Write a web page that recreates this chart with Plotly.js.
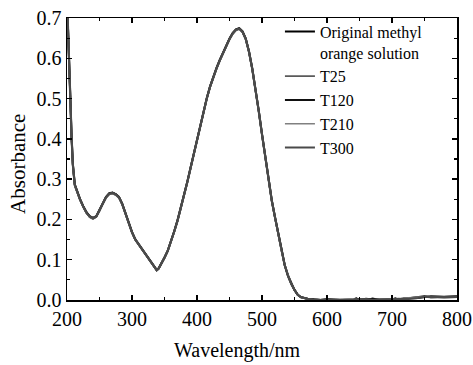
<!DOCTYPE html>
<html>
<head>
<meta charset="utf-8">
<script src="https://cdn.plot.ly/plotly-3.0.1.min.js"></script>
<style>html,body{margin:0;padding:0;background:#fff;}#chart{width:473px;height:365px;}</style>
</head>
<body>
<div id="chart"></div>
<script>
const wavelength = [201,203,205,207,209,212,216,220,225,230,235,240,245,250,255,260,265,270,275,280,285,290,295,300,305,310,315,320,325,330,335,338,341,345,350,355,360,365,370,375,380,385,390,395,400,405,410,415,420,425,430,435,440,445,450,455,460,465,470,475,480,485,490,495,500,505,510,515,520,525,530,535,540,545,550,555,560,570,580,590,600,620,640,645,650,660,670,680,700,705,710,720,740,750,760,780,800];

const original = [0.700,0.620,0.505,0.405,0.335,0.285,0.265,0.250,0.232,0.217,
 0.207,0.203,0.207,0.222,0.240,0.255,0.264,0.266,0.262,0.255,
 0.238,0.214,0.190,0.168,0.150,0.138,0.127,0.115,0.104,0.093,
 0.080,0.074,0.078,0.089,0.105,0.122,0.145,0.170,0.197,0.227,
 0.258,0.292,0.327,0.362,0.397,0.432,0.468,0.500,0.529,0.553,
 0.575,0.595,0.613,0.630,0.648,0.662,0.671,0.674,0.666,0.648,
 0.616,0.574,0.524,0.469,0.411,0.352,0.296,0.247,0.205,0.162,
 0.122,0.086,0.060,0.040,0.025,0.013,0.007,0.003,0.001,0.000,
 0.001,0.000,0.001,0.004,0.000,0.003,0.001,0.000,0.001,0.004,
 0.001,0.003,0.006,0.009,0.007,0.007,0.008];

const t25 = [0.698,0.615,0.500,0.400,0.332,0.283,0.263,0.248,0.230,0.215,
 0.205,0.201,0.206,0.220,0.238,0.253,0.262,0.264,0.260,0.253,
 0.236,0.212,0.188,0.167,0.149,0.137,0.126,0.114,0.103,0.092,
 0.079,0.073,0.077,0.088,0.104,0.121,0.144,0.168,0.195,0.225,
 0.256,0.290,0.325,0.360,0.395,0.430,0.466,0.498,0.527,0.551,
 0.573,0.593,0.611,0.628,0.646,0.660,0.669,0.672,0.664,0.646,
 0.614,0.572,0.522,0.467,0.409,0.350,0.294,0.245,0.203,0.160,
 0.121,0.085,0.059,0.039,0.024,0.012,0.006,0.002,0.001,0.000,
 0.000,0.001,0.002,0.000,0.003,0.000,0.004,0.001,0.000,0.002,
 0.003,0.004,0.007,0.008,0.008,0.006,0.007];

const t120 = [0.702,0.625,0.510,0.408,0.338,0.287,0.266,0.251,0.233,0.218,
 0.208,0.204,0.208,0.223,0.241,0.256,0.265,0.267,0.263,0.256,
 0.239,0.215,0.191,0.169,0.151,0.139,0.128,0.116,0.105,0.094,
 0.081,0.075,0.079,0.090,0.106,0.123,0.146,0.171,0.198,0.228,
 0.259,0.293,0.328,0.363,0.398,0.433,0.469,0.501,0.530,0.554,
 0.576,0.596,0.614,0.631,0.649,0.663,0.672,0.675,0.667,0.649,
 0.617,0.575,0.525,0.470,0.412,0.353,0.297,0.248,0.206,0.163,
 0.123,0.087,0.061,0.041,0.025,0.013,0.007,0.003,0.001,0.000,
 0.002,0.000,0.000,0.003,0.001,0.000,0.003,0.001,0.002,0.000,
 0.002,0.004,0.005,0.007,0.009,0.008,0.009];

const t210 = [0.699,0.618,0.503,0.403,0.334,0.284,0.264,0.249,0.231,0.216,
 0.206,0.202,0.206,0.221,0.239,0.254,0.263,0.265,0.261,0.254,
 0.237,0.213,0.189,0.167,0.150,0.138,0.126,0.115,0.104,0.093,
 0.080,0.074,0.078,0.089,0.105,0.122,0.144,0.169,0.196,0.226,
 0.257,0.291,0.326,0.361,0.396,0.431,0.467,0.499,0.528,0.552,
 0.574,0.594,0.612,0.629,0.647,0.661,0.670,0.673,0.665,0.647,
 0.615,0.573,0.523,0.468,0.410,0.351,0.295,0.246,0.204,0.161,
 0.122,0.086,0.060,0.040,0.024,0.013,0.006,0.003,0.000,0.001,
 0.000,0.000,0.003,0.001,0.000,0.001,0.000,0.002,0.003,0.001,
 0.000,0.005,0.006,0.008,0.006,0.008,0.008];

const t300 = [0.701,0.622,0.507,0.406,0.336,0.286,0.265,0.250,0.232,0.217,
 0.207,0.203,0.207,0.222,0.240,0.255,0.264,0.266,0.262,0.255,
 0.238,0.214,0.190,0.168,0.150,0.138,0.127,0.115,0.104,0.093,
 0.080,0.074,0.078,0.089,0.105,0.122,0.145,0.170,0.197,0.227,
 0.258,0.292,0.327,0.362,0.397,0.432,0.468,0.500,0.529,0.553,
 0.575,0.595,0.613,0.630,0.648,0.662,0.671,0.674,0.666,0.648,
 0.616,0.574,0.524,0.469,0.411,0.352,0.296,0.247,0.205,0.162,
 0.122,0.086,0.060,0.040,0.025,0.013,0.007,0.003,0.001,0.000,
 0.001,0.001,0.000,0.002,0.001,0.002,0.000,0.001,0.001,0.002,
 0.003,0.002,0.005,0.008,0.008,0.007,0.008];

const seriesNames = ['Original methyl<br>orange solution','T25','T120','T210','T300'];
const seriesValues = [original, t25, t120, t210, t300];
const seriesColors = ['#000000','#5a5a5a','#111111','#808080','#4a4a4a'];
const seriesWidths = [2, 1.6, 2, 1.6, 2.2];

const FONT = '"Liberation Serif", "Times New Roman", Times, serif';

const traces = seriesNames.map((n, i) => ({
  type: 'scatter', mode: 'lines', name: n,
  x: wavelength, y: seriesValues[i],
  line: {color: seriesColors[i], width: seriesWidths[i]},
  cliponaxis: true
}));

const axisCommon = {
  showgrid: false, zeroline: false, showline: true, linecolor: '#000', linewidth: 1.5,
  mirror: 'ticks', ticks: 'inside', ticklen: 5, tickwidth: 1.5, tickcolor: '#000',
  tickfont: {family: FONT, size: 20, color: '#000'}
};

const layout = {
  width: 473, height: 365,
  margin: {l: 67, r: 16, t: 18, b: 65},
  paper_bgcolor: '#fff', plot_bgcolor: '#fff',
  font: {family: FONT, color: '#000'},
  showlegend: true,
  xaxis: Object.assign({}, axisCommon, {
    range: [200, 800], dtick: 100, tick0: 200,
    minor: {dtick: 50, ticks: 'inside', ticklen: 3, tickwidth: 1.2, tickcolor: '#000'}
  }),
  yaxis: Object.assign({}, axisCommon, {
    range: [0, 0.7], dtick: 0.1, tick0: 0, tickformat: '.1f',
    minor: {dtick: 0.05, ticks: 'inside', ticklen: 3, tickwidth: 1.2, tickcolor: '#000'}
  }),
  legend: {
    x: 0.546, y: 1.012, xanchor: 'left', yanchor: 'top',
    bgcolor: 'rgba(0,0,0,0)', borderwidth: 0,
    font: {family: FONT, size: 16, color: '#000'},
    valign: 'top', tracegroupgap: 0
  },
  annotations: [
    {text: 'Wavelength/nm', xref: 'paper', yref: 'paper', x: 0.436, y: -0.178,
     xanchor: 'center', yanchor: 'middle', showarrow: false,
     font: {family: FONT, size: 20, color: '#000'}},
    {text: 'Absorbance', xref: 'paper', yref: 'paper', x: -0.126, y: 0.482,
     xanchor: 'center', yanchor: 'middle', showarrow: false, textangle: -90,
     font: {family: FONT, size: 21, color: '#000'}}
  ]
};

Plotly.newPlot('chart', traces, layout, {staticPlot: true, displayModeBar: false});
</script>
</body>
</html>
